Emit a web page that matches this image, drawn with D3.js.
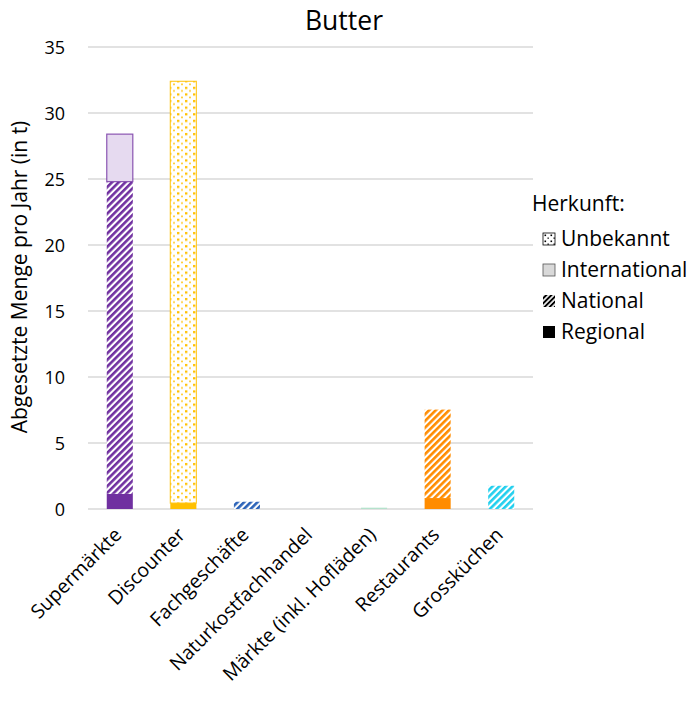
<!DOCTYPE html>
<html><head><meta charset="utf-8">
<script src="https://cdn.jsdelivr.net/npm/d3@7"></script>
<style>body{margin:0;background:#fff}svg text{font-family:"Open Sans",sans-serif;fill:#000}</style>
</head><body><svg id="c" width="690" height="705"></svg>
<script>
const categories = ["Supermärkte","Discounter","Fachgeschäfte","Naturkostfachhandel","Märkte (inkl. Hofläden)","Restaurants","Grossküchen"];
const regional = [1.15, 0.45, 0, 0, 0, 0.83, 0];
const national = [23.65, 0, 0.55, 0, 0.1, 6.7, 1.76];
const international = [3.6, 0, 0, 0, 0, 0, 0];
const unbekannt = [0, 31.95, 0, 0, 0, 0, 0];
const catColors = ["#7030A0","#FFC000","#2A62B8","#70AD47","#B5E2CC","#FF8C00","#22CFEE"];
const intlColors = ["#E6DAF0","#FFF0C0","#D0DCF0","#D8EACB","#E0F2EA","#FFE0BC","#C8F1FA"];
const yTicks = [0,5,10,15,20,25,30,35];
const seriesNames = ["Unbekannt","International","National","Regional"];

const svg = d3.select("#c");
const m = {l:88, r:533, t:47, b:509};
const x = d3.scaleBand().domain(categories).range([m.l, m.r]).paddingInner(0.59).paddingOuter(0.295);
const y = d3.scaleLinear().domain([0,35]).range([m.b, m.t]);
const defs = svg.append("defs");

catColors.forEach((c,i)=>{
  const h = defs.append("pattern").attr("id","hatch"+i).attr("patternUnits","userSpaceOnUse")
    .attr("width",4.7).attr("height",4.7).attr("patternTransform","rotate(45)");
  h.append("rect").attr("width",4.7).attr("height",4.7).attr("fill","#fff");
  h.append("rect").attr("width",2.6).attr("height",4.7).attr("fill",c);
  const d = defs.append("pattern").attr("id","dots"+i).attr("patternUnits","userSpaceOnUse")
    .attr("width",8).attr("height",6.6);
  d.append("rect").attr("width",8).attr("height",6.6).attr("fill","#fff");
  d.append("rect").attr("x",1).attr("y",1).attr("width",2.4).attr("height",2.2).attr("fill",c);
  d.append("rect").attr("x",5).attr("y",4.3).attr("width",2).attr("height",1.6).attr("fill",c).attr("opacity",0.8);
});
// legend patterns (black)
{
  const h = defs.append("pattern").attr("id","hatchK").attr("patternUnits","userSpaceOnUse")
    .attr("width",3.6).attr("height",3.6).attr("patternTransform","rotate(45)");
  h.append("rect").attr("width",3.6).attr("height",3.6).attr("fill","#fff");
  h.append("rect").attr("width",2).attr("height",3.6).attr("fill","#000");
  const d = defs.append("pattern").attr("id","dotsK").attr("patternUnits","userSpaceOnUse")
    .attr("width",6).attr("height",6).attr("x",543).attr("y",233);
  d.append("rect").attr("width",6).attr("height",6).attr("fill","#fff");
  d.append("rect").attr("x",1.5).attr("y",1.5).attr("width",1.6).attr("height",1.6).attr("fill","#000");
  d.append("rect").attr("x",4.5).attr("y",4.5).attr("width",1.3).attr("height",1.3).attr("fill","#000");
}

// gridlines
svg.append("g").selectAll("line").data(yTicks).join("line")
  .attr("x1",m.l).attr("x2",m.r).attr("y1",d=>y(d)).attr("y2",d=>y(d))
  .attr("stroke","#D9D9D9").attr("stroke-width",1.3);

// y axis labels
const yAxis = d3.axisLeft(y).tickValues(yTicks).tickSize(0).tickPadding(0);
const ya = svg.append("g").attr("transform",`translate(${m.l-23},0)`).call(yAxis);
ya.select(".domain").remove();
ya.selectAll("text").attr("font-size",18).attr("font-family","'Open Sans',sans-serif").attr("dy","0.35em");

// stacked bars
const stackData = categories.map((c,i)=>({cat:c,i:i,
  parts:[{k:"Regional",v:regional[i]},{k:"National",v:national[i]},{k:"International",v:international[i]},{k:"Unbekannt",v:unbekannt[i]}]}));
const bars = svg.append("g");
stackData.forEach(d=>{
  let base = 0;
  d.parts.forEach(p=>{
    if (p.v>0){
      const y0 = y(base), y1 = y(base+p.v);
      let fill;
      if (p.k==="Regional") fill = catColors[d.i];
      else if (p.k==="National") fill = (d.i===4 ? catColors[d.i] : `url(#hatch${d.i})`);
      else if (p.k==="International") fill = intlColors[d.i];
      else fill = `url(#dots${d.i})`;
      bars.append("rect").attr("x",x(d.cat)).attr("width",x.bandwidth())
        .attr("y",y1).attr("height",y0-y1).attr("fill",fill)
        .attr("stroke", p.k==="International"||p.k==="Unbekannt" ? catColors[d.i] : "none")
        .attr("stroke-width",1.2).attr("stroke-opacity",0.8);
    }
    base += p.v;
  });
});

// x labels
svg.append("g").selectAll("text").data(categories).join("text")
  .attr("transform",d=>`translate(${x(d)+x.bandwidth()/2+3},${m.b+27}) rotate(-45)`)
  .attr("text-anchor","end").attr("font-size",19.5).text(d=>d);

// title
svg.append("text").attr("x",344).attr("y",29.5).attr("text-anchor","middle").attr("font-size",26.5).text("Butter");

// y axis title
svg.append("text").attr("transform",`translate(27,277) rotate(-90)`)
  .attr("text-anchor","middle").attr("font-size",21).text("Abgesetzte Menge pro Jahr (in t)");

// legend
const lg = svg.append("g");
lg.append("text").attr("x",532).attr("y",211).attr("font-size",21).text("Herkunft:");
const legFills = ["url(#dotsK)","#D9D9D9","url(#hatchK)","#000"];
const legStroke = ["#000","#555","none","none"];
seriesNames.forEach((s,i)=>{
  const yy = 239 + i*31;
  lg.append("rect").attr("x",543).attr("y",yy-6).attr("width",12).attr("height",12)
    .attr("fill",legFills[i]).attr("stroke",legStroke[i]).attr("stroke-width",0.8);
  lg.append("text").attr("x",561).attr("y",yy+7).attr("font-size",21).text(s);
});
</script></body></html>
